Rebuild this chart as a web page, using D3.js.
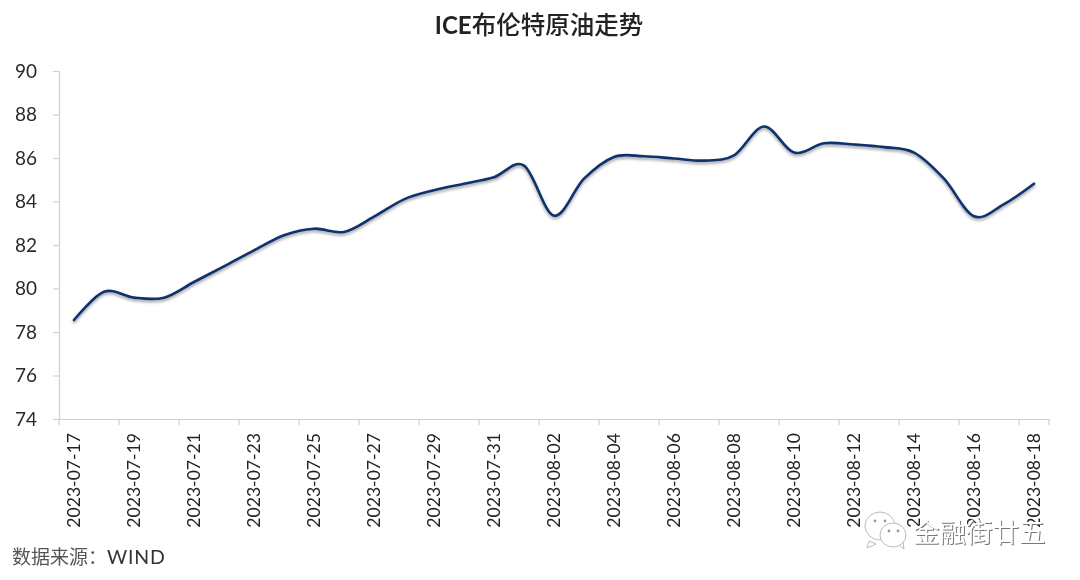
<!DOCTYPE html>
<html>
<head>
<meta charset="utf-8">
<script src="https://cdn.jsdelivr.net/npm/d3@7"></script>
<style>
  body { margin: 0; background: #fff; }
  text { font-family: Lato, "Noto Sans CJK SC", sans-serif; }
</style>
</head>
<body>
<svg id="chart" width="1080" height="580"></svg>
<script>
let width = 1080,
  height = 580;

let dates = [
  "2023-07-17", "2023-07-18", "2023-07-19", "2023-07-20", "2023-07-21", "2023-07-22",
  "2023-07-23", "2023-07-24", "2023-07-25", "2023-07-26", "2023-07-27", "2023-07-28",
  "2023-07-29", "2023-07-30", "2023-07-31", "2023-08-01", "2023-08-02", "2023-08-03",
  "2023-08-04", "2023-08-05", "2023-08-06", "2023-08-07", "2023-08-08", "2023-08-09",
  "2023-08-10", "2023-08-11", "2023-08-12", "2023-08-13", "2023-08-14", "2023-08-15",
  "2023-08-16", "2023-08-17", "2023-08-18"
];
let prices = [
  78.55, 79.85, 79.58, 79.58, 80.3, 81.02,
  81.75, 82.45, 82.75, 82.6, 83.3, 84.1,
  84.52, 84.82, 85.12, 85.65, 83.35, 85.05,
  86.05, 86.08, 85.98, 85.88, 86.12, 87.45,
  86.25, 86.68, 86.62, 86.5, 86.25, 85.05,
  83.32, 83.88, 84.82
];
let y_ticks = [74, 76, 78, 80, 82, 84, 86, 88, 90];
let title_latin = "ICE";
let title_cjk = "布伦特原油走势";
let source_cjk = "数据来源：";
let source_latin = "WIND";
let watermark = "金融街廿五";

let svg = d3.select("#chart");

let scales = {
  x: d3.scaleBand().domain(dates).range([59, 1049]),
  y: d3.scaleLinear().domain([74, 90]).range([419, 71])
};

// soft shadow under the line, like the Excel line effect
let defs = svg.append("defs");
defs.append("filter")
  .attr("id", "shadow")
  .attr("x", "-5%").attr("y", "-20%").attr("width", "110%").attr("height", "140%")
  .append("feDropShadow")
  .attr("dx", 0).attr("dy", 2).attr("stdDeviation", 1.4)
  .attr("flood-color", "#000").attr("flood-opacity", 0.4);
defs.append("filter")
  .attr("id", "soft")
  .append("feGaussianBlur")
  .attr("stdDeviation", 0.45);

let root = svg.append("g").attr("filter", "url(#soft)");

let y_axis = d3.axisLeft(scales.y).tickValues(y_ticks).tickSize(6).tickPadding(16);
let x_axis = d3.axisBottom(scales.x)
  .tickValues(dates.filter((d, i) => i % 2 == 0))
  .tickSize(0)
  .tickPadding(0);

let y_g = root.append("g").attr("transform", "translate(59,0)").call(y_axis);
y_g.select(".domain").attr("stroke", "#d0d0d0").attr("stroke-width", 1.2);
y_g.selectAll(".tick line").attr("stroke", "#d0d0d0").attr("stroke-width", 1.2);
y_g.selectAll(".tick text")
  .attr("fill", "#2a2a2a")
  .style("font-size", "19px");

let x_g = root.append("g").attr("transform", "translate(0,419)").call(x_axis);
x_g.select(".domain").attr("stroke", "#d0d0d0").attr("stroke-width", 1.2);
x_g.selectAll(".tick line").remove();
x_g.selectAll(".tick text")
  .attr("fill", "#222")
  .attr("text-anchor", "end")
  .attr("dy", "0.35em")
  .attr("transform", "translate(0,14) rotate(-90)")
  .style("font-size", "17.6px");

// tick marks sit on the band edges, every second day
root.append("g")
  .selectAll("line")
  .data(dates.filter((d, i) => i % 2 == 0).concat(["end"]))
  .enter()
  .append("line")
  .attr("x1", d => d == "end" ? 1049 : scales.x(d))
  .attr("x2", d => d == "end" ? 1049 : scales.x(d))
  .attr("y1", 419)
  .attr("y2", 425)
  .attr("stroke", "#d0d0d0")
  .attr("stroke-width", 1.2);

let line_gen = d3.line()
  .x((d, i) => scales.x(dates[i]) + scales.x.bandwidth() / 2)
  .y(d => scales.y(d))
  .curve(d3.curveCatmullRom.alpha(0));

root.append("path")
  .datum(prices)
  .attr("d", line_gen)
  .attr("fill", "none")
  .attr("stroke", "#10306e")
  .attr("stroke-width", 2.6)
  .attr("stroke-linecap", "round")
  .attr("filter", "url(#shadow)");

let title_el = root.append("text")
  .attr("x", 539)
  .attr("y", 34)
  .attr("text-anchor", "middle")
  .attr("fill", "#222");
title_el.append("tspan")
  .style("font-size", "24px")
  .style("font-weight", 700)
  .text(title_latin);
title_el.append("tspan")
  .style("font-size", "24.5px")
  .style("font-weight", 500)
  .text(title_cjk);

let source_el = root.append("text")
  .attr("x", 12)
  .attr("y", 564);
source_el.append("tspan")
  .attr("fill", "#555")
  .style("font-size", "19px")
  .text(source_cjk);
source_el.append("tspan")
  .attr("fill", "#333")
  .style("font-size", "19.5px")
  .style("letter-spacing", "0.8px")
  .text(source_latin);

// WeChat style watermark over the last tick labels
let wm = svg.append("g");
let bubbles = wm.append("g")
  .attr("fill", "#fff")
  .attr("stroke", "#bbb")
  .attr("stroke-width", 1);
bubbles.append("path").attr("d", "M869 541 l-2 7 l9 -4 z");
bubbles.append("ellipse").attr("cx", 880).attr("cy", 526).attr("rx", 15).attr("ry", 14);
bubbles.append("path").attr("d", "M898 544 l6 5 l-1 -8 z");
bubbles.append("ellipse").attr("cx", 893).attr("cy", 535).attr("rx", 13).attr("ry", 12);
wm.selectAll("circle")
  .data([[875, 521], [885, 521], [889, 531], [898, 531]])
  .enter()
  .append("circle")
  .attr("cx", d => d[0])
  .attr("cy", d => d[1])
  .attr("r", 1.4)
  .attr("fill", "#999");

wm.append("text")
  .attr("x", 913)
  .attr("y", 542)
  .attr("fill", "#777")
  .attr("transform", "translate(1,1)")
  .style("font-size", "26.5px")
  .text(watermark);
wm.append("text")
  .attr("x", 913)
  .attr("y", 542)
  .attr("fill", "#fff")
  .style("font-size", "26.5px")
  .text(watermark);
</script>
</body>
</html>
